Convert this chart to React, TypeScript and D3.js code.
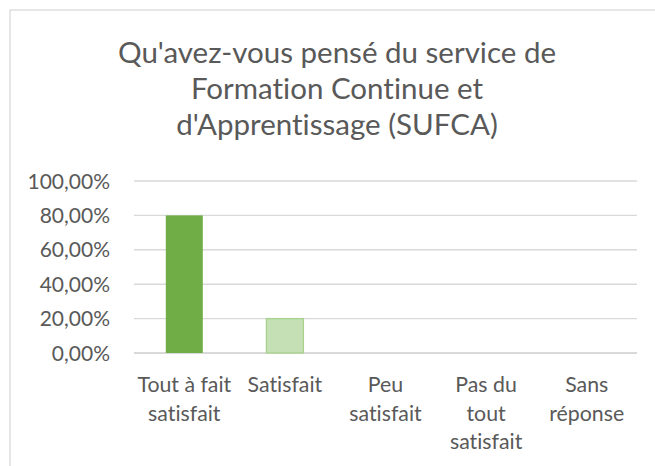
import React from "react";
import * as d3 from "d3";

const titleLines = ["Qu'avez-vous pensé du service de", "Formation Continue et", "d'Apprentissage (SUFCA)"];
const categories = ["Tout à fait satisfait", "Satisfait", "Peu satisfait", "Pas du tout satisfait", "Sans réponse"];
const categoryLines = [["Tout à fait", "satisfait"], ["Satisfait"], ["Peu", "satisfait"], ["Pas du", "tout", "satisfait"], ["Sans", "réponse"]];
const values = [0.8, 0.2, 0, 0, 0];
const yTicks = [0, 0.2, 0.4, 0.6, 0.8, 1.0];
const barFills = ["#70AD47", "#C5E0B4", "#70AD47", "#70AD47", "#70AD47"];
const barStrokes = ["none", "#A9D18E", "none", "none", "none"];

const W = 655;
const H = 466;
const plotLeft = 134;
const plotRight = 637;
const plotTop = 181;
const plotBottom = 353;
const FONT = "Lato, 'Noto Sans', sans-serif";
const TEXT = "#595959";
const textStyle = { fontVariantLigatures: "none" as const, fontFeatureSettings: "'liga' 0, 'clig' 0" };

const fmt = (v: number) => (v * 100).toFixed(2).replace(".", ",") + "%";

export default function App() {
  const x = d3.scaleBand<string>().domain(categories).range([plotLeft, plotRight]).padding(0);
  const y = d3.scaleLinear().domain([0, 1]).range([plotBottom, plotTop]);
  const barW = x.bandwidth() * 0.368;

  return (
    <svg width={W} height={H} style={{ position: "absolute", left: 0, top: 0, background: "#fff" }}>
      <rect x={0} y={0} width={W} height={H} fill="#fff" />
      <rect x={10} y={10} width={W + 20} height={H + 20} fill="#fff" stroke="#d9d9d9" strokeWidth={1.3} />
      {titleLines.map((t, i) => (
        <text key={t} x={337} y={63 + i * 36} textAnchor="middle" fontFamily={FONT} fontSize={29.5} fill={TEXT} style={textStyle}>
          {t}
        </text>
      ))}
      {yTicks.map((t) => (
        <g key={t}>
          <line
            x1={plotLeft}
            x2={plotRight}
            y1={y(t)}
            y2={y(t)}
            stroke="#d9d9d9"
            strokeWidth={t === 0 ? 2 : 1.4}
          />
          <text x={110} y={y(t)} dy="0.36em" textAnchor="end" fontFamily={FONT} fontSize={21} fill={TEXT} style={textStyle}>
            {fmt(t)}
          </text>
        </g>
      ))}
      {categories.map((c, i) => {
        const cx = (x(c) as number) + x.bandwidth() / 2;
        const v = values[i];
        return (
          <g key={c}>
            {v > 0 && (
              <rect
                x={cx - barW / 2}
                y={y(v)}
                width={barW}
                height={y(0) - y(v)}
                fill={barFills[i]}
                stroke={barStrokes[i]}
                strokeWidth={1.3}
              />
            )}
            {categoryLines[i].map((l, j) => (
              <text key={j} x={cx} y={392 + j * 28.5} textAnchor="middle" fontFamily={FONT} fontSize={21.3} fill={TEXT} style={textStyle}>
                {l}
              </text>
            ))}
          </g>
        );
      })}
    </svg>
  );
}
